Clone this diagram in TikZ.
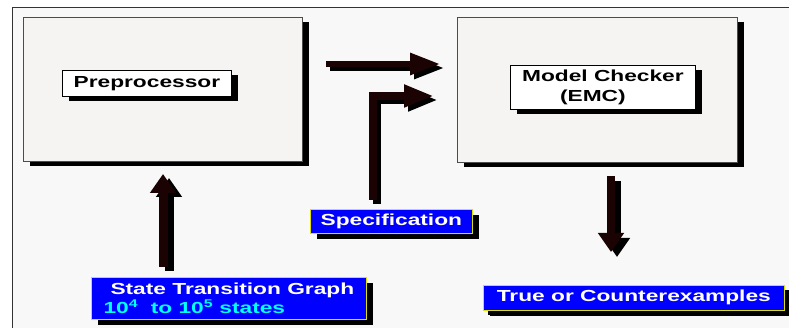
\documentclass[tikz,border=0pt]{standalone}
\usepackage{fontspec}
\setmainfont{Liberation Sans}[FakeStretch=1.42]
\usetikzlibrary{arrows.meta,shadows}
\definecolor{bg}{HTML}{F8F8F8}
\definecolor{boxbg}{HTML}{F5F4F3}
\definecolor{arrc}{HTML}{1C0303}
\definecolor{tagblue}{HTML}{0000FF}
\definecolor{tagedge}{HTML}{E0E000}
\definecolor{cyantext}{HTML}{00FFFF}
\begin{document}
\begin{tikzpicture}[x=1pt,y=-1pt,
  txt/.style={font=\bfseries\fontsize{16}{19}\selectfont},
  bigbox/.style={anchor=north west, draw=black!70, fill=boxbg, line width=0.8pt, inner sep=0pt,
    general shadow={fill=black, draw=none, shadow xshift=7pt, shadow yshift=-5pt}},
  lbl/.style={txt, anchor=north west, draw=black, fill=white, line width=0.8pt, inner sep=0pt,
    general shadow={fill=black, draw=none, shadow xshift=7pt, shadow yshift=-5pt}},
  tag/.style={txt, anchor=north west, draw=tagedge, fill=tagblue, text=white, line width=0.7pt, inner sep=0pt,
    general shadow={fill=black, draw=none, shadow xshift=7pt, shadow yshift=-6pt}},
  harrow/.style={draw=#1, line width=6pt, line join=miter, -{Triangle[length=30pt,width=21pt]}},
  varrow/.style={draw=#1, line width=9pt, -{Triangle[length=19pt,width=25pt]}},
  shadowed/.style={transform canvas={shift={(4pt,-4pt)}}}
]
\useasboundingbox (0,0) rectangle (789,328);
\fill[white] (0,0) rectangle (789,328);
\fill[bg] (12,8) rectangle (789,328);
\draw[black!80, line width=1pt] (12,328) -- (12,8) -- (789,8);

% main boxes
\node[bigbox, minimum width=279pt, minimum height=144pt] (pre) at (23,17) {};
\node[bigbox, minimum width=280pt, minimum height=145pt] (mc) at (457,17) {};

% labels
\node[lbl, minimum width=169pt, minimum height=26pt] (prelab) at (62,70) {Preprocessor};
\node[lbl, minimum width=185pt, minimum height=44pt, align=left] (mclab) at (510,65)
  {Model Checker\\[1pt]\hspace*{38pt}(EMC)};

% tags
\node[tag, minimum width=162pt, minimum height=24pt] (spec) at (310,209) {Specification};
\node[tag, minimum width=275pt, minimum height=42pt, align=left] (stg) at (91,277)
  {\hspace*{7pt}State Transition Graph\\{\color{cyantext}10\textsuperscript{4}\ \ to 10\textsuperscript{5} states}};
\node[tag, minimum width=301pt, minimum height=25pt, general shadow={fill=black, draw=none, shadow xshift=5pt, shadow yshift=-5pt}] (toc) at (483,285) {True or Counterexamples};

% arrow end points
\coordinate (a1s) at (326,64);
\coordinate (a1e) at (440,64);
\coordinate (a2s) at (373,200);
\coordinate (a2c) at (373,96);
\coordinate (a2e) at (434,96);
\coordinate (a3s) at (163,267);
\coordinate (a3e) at (163,174);
\coordinate (a4s) at (611,176);
\coordinate (a4e) at (611,252);

% arrows: shadow then front
\draw[harrow=black, shadowed] (a1s) -- (a1e);
\draw[harrow=arrc] (a1s) -- (a1e);
\draw[harrow=black, line width=8pt, shadowed] (a2s) -- (a2c) -- (a2e);
\draw[harrow=arrc, line width=8pt] (a2s) -- (a2c) -- (a2e);
\draw[varrow=black, transform canvas={shift={(6pt,-4pt)}}] (a3s) -- (a3e);
\draw[varrow=arrc] (a3s) -- (a3e);
\draw[varrow=black, line width=8pt, transform canvas={shift={(6pt,-5pt)}}] (a4s) -- (a4e);
\draw[varrow=arrc, line width=8pt] (a4s) -- (a4e);
\end{tikzpicture}
\end{document}
